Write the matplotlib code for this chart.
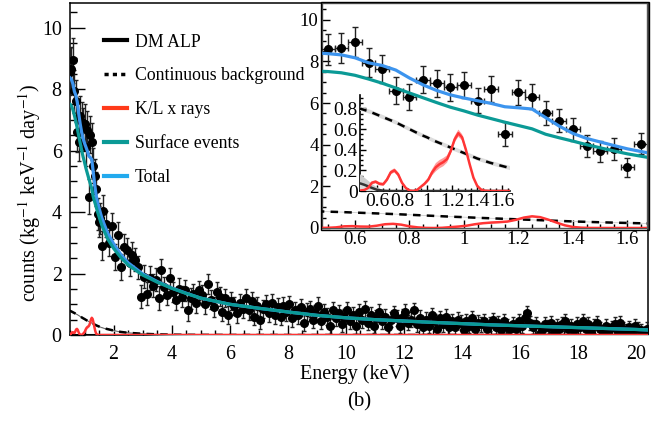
import matplotlib
matplotlib.use('Agg')
import matplotlib.pyplot as plt
from matplotlib.lines import Line2D
from matplotlib.patches import Rectangle
from matplotlib.ticker import MultipleLocator, FuncFormatter
import numpy as np

plt.rcParams['font.family'] = ['Liberation Serif', 'DejaVu Serif']
plt.rcParams['mathtext.fontset'] = 'stix'

# ---------------- data ----------------
# low-energy bins (0.05 keV), shown in the inset and the main panel
E_lo = [0.50, 0.55, 0.60, 0.65, 0.70, 0.75, 0.80, 0.85, 0.90, 0.95, 1.00, 1.05,
        1.10, 1.15, 1.20, 1.25, 1.30, 1.35, 1.40, 1.45, 1.50, 1.55, 1.60, 1.65]
cnt_lo = [8.57, 8.65, 8.93, 7.93, 7.62, 6.60, 6.29, 7.11, 6.94, 6.75, 6.87, 6.11,
          6.68, 4.50, 6.52, 6.29, 5.51, 5.16, 4.75, 3.94, 3.69, 3.79, 2.91, 4.05]
err_lo = [0.75, 0.72, 0.73, 0.70, 0.68, 0.66, 0.64, 0.65, 0.64, 0.63, 0.63, 0.60,
          0.62, 0.57, 0.60, 0.60, 0.58, 0.57, 0.55, 0.52, 0.50, 0.52, 0.47, 0.52]

# higher-energy bins (0.1 keV) from 1.75 keV
E_hi_start, E_hi_step = 1.75, 0.1
cnt_hi = [3.6, 3.0, 3.55, 2.55, 3.25, 2.2, 2.85, 2.75, 2.35, 2.6,
          2.45, 2.2, 1.25, 1.9, 1.35, 1.85, 1.6, 1.8, 1.2, 2.1,
          1.55, 1.3, 1.85, 1.4, 1.15, 1.5, 1.25, 1.45, 0.8, 1.2,
          1.35, 1.05, 1.45, 1.3, 1.0, 1.65, 1.15, 0.9, 1.4, 1.25,
          0.75, 1.2, 0.65, 1.1, 0.95, 0.7, 1.05, 0.85, 1.2, 0.8,
          1.1, 0.6, 0.95, 0.5, 0.85, 1.0, 0.7, 1.05, 0.65, 0.9,
          0.6, 0.95, 0.75, 1.0, 0.55, 0.8, 0.65, 0.9, 0.4, 0.75,
          0.85, 0.5, 0.7, 0.95, 0.45, 0.75, 0.6, 0.3, 0.8, 0.55,
          0.7, 0.35, 0.6, 0.8, 0.45, 0.65, 0.3, 0.75, 0.5, 0.85,
          0.4, 0.65, 0.3, 0.55, 0.75, 0.45, 0.6, 0.25, 0.5, 0.7,
          0.55, 0.3, 0.6, 0.75, 0.4, 0.5, 0.8, 0.35, 0.55, 0.25,
          0.5, 0.3, 0.65, 0.45, 0.2, 0.55, 0.35, 0.6, 0.25, 0.45,
          0.25, 0.5, 0.4, 0.15, 0.45, 0.3, 0.55, 0.2, 0.4, 0.35,
          0.45, 0.2, 0.35, 0.5, 0.25, 0.4, 0.15, 0.45, 0.3, 0.2,
          0.35, 0.2, 0.45, 0.3, 0.55, 0.7, 0.4, 0.25, 0.35, 0.0,
          0.15, 0.35, 0.25, 0.4, 0.1, 0.3, 0.2, 0.35, 0.45, 0.2,
          0.3, 0.15, 0.35, 0.25, 0.45, 0.2, 0.35, 0.1, 0.3, 0.4,
          0.2, 0.1, 0.3, 0.15, 0.25, 0.35, 0.1, 0.4, 0.2, 0.15,
          0.25, 0.1, 0.3, 0.2, 0.15, 0.05, 0.2, 0.12]
# error per 1-keV group of the high-energy bins
err_hi_group = [0.42, 0.38, 0.34, 0.32, 0.30, 0.29, 0.28, 0.27, 0.26, 0.25,
                0.25, 0.24, 0.24, 0.23, 0.23, 0.23, 0.22, 0.22, 0.22]

# model curves
E_s = [0.46, 0.5, 0.55, 0.6, 0.65, 0.7, 0.75, 0.8, 0.85, 0.9, 0.95, 1.0, 1.05, 1.1,
       1.15, 1.2, 1.25, 1.3, 1.35, 1.4, 1.45, 1.5, 1.55, 1.6, 1.67, 1.8, 2.0, 2.25,
       2.5, 3.0, 3.5, 4.0, 4.5, 5.0, 6.0, 7.0, 8.0, 9.0, 10.0, 11.0, 12.0, 13.0,
       14.0, 15.0, 16.0, 17.0, 18.0, 19.0, 20.0, 20.5]
surface = [7.53, 7.51, 7.45, 7.33, 7.15, 6.95, 6.72, 6.48, 6.25, 6.02, 5.80, 5.62,
           5.42, 5.25, 5.08, 4.92, 4.76, 4.50, 4.33, 4.17, 4.00, 3.85, 3.70, 3.56,
           3.40, 3.12, 2.82, 2.52, 2.28, 1.95, 1.72, 1.52, 1.35, 1.20, 1.00, 0.87,
           0.75, 0.64, 0.56, 0.50, 0.455, 0.41, 0.37, 0.33, 0.30, 0.27, 0.24, 0.21,
           0.18, 0.16]
total = [8.40, 8.37, 8.31, 8.17, 7.93, 7.80, 7.58, 7.20, 6.87, 6.60, 6.39, 6.24,
         6.11, 5.98, 5.82, 5.77, 5.71, 5.30, 4.89, 4.54, 4.30, 4.13, 3.96, 3.80,
         3.62, 3.31, 2.97, 2.62, 2.35, 1.99, 1.74, 1.53, 1.36, 1.20, 1.00, 0.87,
         0.75, 0.64, 0.56, 0.50, 0.455, 0.41, 0.37, 0.33, 0.30, 0.27, 0.24, 0.21,
         0.18, 0.16]
background = [0.80, 0.785, 0.765, 0.74, 0.715, 0.69, 0.665, 0.635, 0.605, 0.575,
              0.545, 0.52, 0.49, 0.465, 0.44, 0.415, 0.39, 0.365, 0.34, 0.315,
              0.295, 0.275, 0.258, 0.242, 0.22, 0.19, 0.145, 0.10, 0.072, 0.04,
              0.022, 0.012, 0.007, 0.004, 0.002, 0.001, 0, 0, 0, 0, 0, 0, 0, 0,
              0, 0, 0, 0, 0, 0]
bg_err = 0.02

E_r = [0.44, 0.50, 0.53, 0.56, 0.59, 0.62, 0.65, 0.68, 0.71, 0.74, 0.77, 0.80, 0.83,
       0.86, 0.89, 0.92, 0.95, 0.98, 1.01, 1.04, 1.07, 1.10, 1.13, 1.16, 1.19, 1.22,
       1.25, 1.28, 1.31, 1.34, 1.37, 1.40, 1.43, 1.46, 1.50, 2.0, 20.5]
xrays = [0.0, 0.01, 0.03, 0.08, 0.09, 0.07, 0.065, 0.11, 0.18, 0.20, 0.16, 0.08,
         0.03, 0.005, 0.0, 0.01, 0.04, 0.07, 0.11, 0.18, 0.23, 0.26, 0.28, 0.31,
         0.39, 0.50, 0.56, 0.52, 0.40, 0.26, 0.13, 0.05, 0.015, 0.003, 0.0, 0.0, 0.0]
xrays_err = [0, 0.005, 0.01, 0.015, 0.015, 0.015, 0.015, 0.02, 0.02, 0.02, 0.02,
             0.015, 0.01, 0.005, 0, 0.005, 0.01, 0.015, 0.02, 0.03, 0.04, 0.04,
             0.04, 0.035, 0.03, 0.03, 0.035, 0.03, 0.025, 0.02, 0.015, 0.01,
             0.005, 0, 0, 0, 0]

E_dm = [0.44, 0.47, 0.50, 0.53, 0.56, 0.60, 0.65, 0.70, 20.5]
dm = [0.08, 0.072, 0.06, 0.045, 0.03, 0.012, 0.003, 0.0, 0.0]
dm_hi = [0.17, 0.16, 0.13, 0.10, 0.07, 0.035, 0.01, 0.0, 0.0]

# ---------------- styles ----------------
C_TOT = '#3c94ee'
C_SUR = '#0b9a96'
C_RED = '#ff3535'
C_LEG_TOT = '#22aaee'
C_LEG_RED = '#ff3a1a'

E_hi = np.round(E_hi_start + E_hi_step * np.arange(len(cnt_hi)), 3)
err_hi = np.repeat(err_hi_group, 10)[:len(cnt_hi)]
bg_arr = np.array(background)
xr_arr = np.array(xrays)
xre_arr = np.array(xrays_err)

def fmt(v, pos):
    return '%g' % round(v, 3)

fig = plt.figure(figsize=(6.62, 4.25), dpi=100)

# ---------------- main panel ----------------
ax = fig.add_axes([70/662, 1-335/425, 578/662, 332/425])
ax.set_xlim(0.5, 20.4)
ax.set_ylim(0, 10.8)

ax.errorbar(E_lo, cnt_lo, yerr=err_lo, xerr=0.025, fmt='o', color='black',
            ms=5.5, ecolor='#222222', elinewidth=1.0, capsize=1.5, zorder=3)
ax.errorbar(E_hi, cnt_hi, yerr=err_hi, xerr=0.05, fmt='o', color='black',
            ms=5.5, ecolor='#222222', elinewidth=1.0, capsize=1.5, zorder=3)
ax.fill_between(E_s, bg_arr - bg_err, bg_arr + bg_err, color='#cccccc', lw=0, zorder=4)
ax.plot(E_s, background, color='#555555', lw=0.6, zorder=4)
ax.plot(E_s, background, color='black', lw=1.8, ls=(0, (3, 2.5)), zorder=5)
ax.plot(E_dm, dm, color='black', lw=1.5, zorder=5)
ax.fill_between(E_r, xr_arr - xre_arr, xr_arr + xre_arr, color='#ffaaaa', lw=0, zorder=5)
ax.plot(E_r, xrays, color=C_RED, lw=1.8, zorder=6)
ax.plot(E_s, total, color=C_TOT, lw=2.3, zorder=6)
ax.plot(E_s, surface, color=C_SUR, lw=2.3, zorder=7)

ax.xaxis.set_major_locator(MultipleLocator(2))
ax.xaxis.set_minor_locator(MultipleLocator(0.5))
ax.yaxis.set_major_locator(MultipleLocator(2))
ax.yaxis.set_minor_locator(MultipleLocator(0.5))
ax.xaxis.set_major_formatter(FuncFormatter(fmt))
ax.yaxis.set_major_formatter(FuncFormatter(fmt))
ax.tick_params(axis='both', which='both', direction='in', top=False, right=False,
               width=1.0, labelsize=14.4)
ax.tick_params(axis='y', which='major', length=10.8, pad=6)
ax.tick_params(axis='y', which='minor', length=5)
ax.tick_params(axis='x', which='major', length=7.2, pad=7)
ax.tick_params(axis='x', which='minor', length=3.6)
for s in ax.spines.values():
    s.set_linewidth(1.1)

ax.set_xlabel('Energy (keV)', fontsize=14.5)
ax.set_ylabel(r'counts (kg$^{-1}$ keV$^{-1}$ day$^{-1}$)', fontsize=14.5)
ax.xaxis.set_label_coords(0.493, -0.087)
ax.yaxis.set_label_coords(-0.047, 0.43)

handles = [Line2D([], [], color='black', lw=3),
           Line2D([], [], color='black', lw=2.5, ls=(0, (1.2, 1.2))),
           Line2D([], [], color=C_LEG_RED, lw=3),
           Line2D([], [], color=C_SUR, lw=3),
           Line2D([], [], color=C_LEG_TOT, lw=3)]
labels = ['DM ALP', 'Continuous background', 'K/L x rays', 'Surface events', 'Total']
ax.legend(handles, labels, loc='upper left', bbox_to_anchor=(0.058, 0.908),
          frameon=False, fontsize=12.8, handlelength=1.3, handletextpad=0.45,
          labelspacing=0.95, borderpad=0, borderaxespad=0)

# ---------------- inset ----------------
ax2 = fig.add_axes([322/662, 1-228/425, 325/662, 225/425])
ax2.set_facecolor('white')
ax2.set_xlim(0.479, 1.672)
ax2.set_ylim(0, 10.8)
ax2.errorbar(E_lo, cnt_lo, yerr=err_lo, xerr=0.025, fmt='o', color='black',
             ms=5.5, ecolor='#222222', elinewidth=1.0, capsize=2, zorder=3)
ax2.fill_between(E_s, bg_arr - bg_err, bg_arr + bg_err, color='#cccccc', lw=0, zorder=4)
ax2.plot(E_s, background, color='black', lw=1.8, ls=(0, (3, 2.5)), zorder=5)
ax2.fill_between(E_r, xr_arr - xre_arr, xr_arr + xre_arr, color='#ffaaaa', lw=0, zorder=5)
ax2.plot(E_r, xrays, color=C_RED, lw=1.8, zorder=6)
ax2.plot(E_s, total, color=C_TOT, lw=2.3, zorder=6)
ax2.plot(E_s, surface, color=C_SUR, lw=2.3, zorder=7)
ax2.xaxis.set_major_locator(MultipleLocator(0.2))
ax2.xaxis.set_minor_locator(MultipleLocator(0.05))
ax2.yaxis.set_major_locator(MultipleLocator(2))
ax2.yaxis.set_minor_locator(MultipleLocator(0.5))
ax2.xaxis.set_major_formatter(FuncFormatter(fmt))
ax2.yaxis.set_major_formatter(FuncFormatter(fmt))
ax2.tick_params(axis='both', which='both', direction='in', top=False, right=False,
                width=1.0, labelsize=13.5)
ax2.tick_params(axis='both', which='major', length=6, pad=2.5)
ax2.tick_params(axis='both', which='minor', length=3)
for s in ax2.spines.values():
    s.set_linewidth(1.0)
    s.set_color('#555555')
# outer line of the double frame
fig.patches.append(Rectangle((320.5/662, 1-229.5/425), 328.5/662, 228/425,
                             transform=fig.transFigure, fill=False,
                             edgecolor='black', lw=1.0, zorder=10))

# ---------------- inner inset ----------------
ax3 = fig.add_axes([360/662, 1-191/425, 150/662, 96/425])
ax3.patch.set_alpha(0)
ax3.set_xlim(0.465, 1.662)
ax3.set_ylim(0, 0.93)
ax3.fill_between(E_dm, dm, dm_hi, color='#cccccc', lw=0, zorder=3)
ax3.fill_between(E_dm, 0, dm, color='#dddddd', lw=0, zorder=3)
ax3.plot(E_dm, dm, color='#333333', lw=1.8, zorder=4)
ax3.fill_between(E_s, bg_arr - 0.02, bg_arr + 0.02, color='#dddddd', lw=0, zorder=3)
ax3.plot(E_s, background, color='black', lw=1.8, ls=(0, (3, 2.5)), zorder=5)
ax3.fill_between(E_r, xr_arr - xre_arr, xr_arr + xre_arr, color='#ff9c9c', lw=0, zorder=5)
ax3.plot(E_r, xrays, color=C_RED, lw=1.8, zorder=6)
ax3.xaxis.set_major_locator(MultipleLocator(0.2))
ax3.xaxis.set_minor_locator(MultipleLocator(0.05))
ax3.yaxis.set_major_locator(MultipleLocator(0.2))
ax3.yaxis.set_minor_locator(MultipleLocator(0.05))
ax3.xaxis.set_major_formatter(FuncFormatter(fmt))
ax3.yaxis.set_major_formatter(FuncFormatter(fmt))
ax3.spines['top'].set_visible(False)
ax3.spines['right'].set_visible(False)
for s in ('left', 'bottom'):
    ax3.spines[s].set_linewidth(1.2)
ax3.tick_params(axis='both', which='both', direction='in', top=False, right=False,
                width=1.0, labelsize=14)
ax3.tick_params(axis='both', which='major', length=4, pad=1.5)
ax3.tick_params(axis='both', which='minor', length=2)

fig.text(359/662, 1-402/425, '(b)', ha='center', va='center', fontsize=15)

fig.savefig('out.png', dpi=100)
